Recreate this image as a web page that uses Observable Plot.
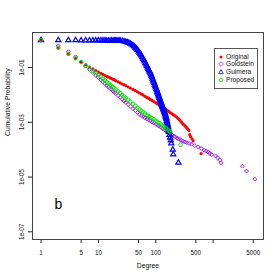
<!DOCTYPE html>
<html>
<head>
<meta charset="utf-8">
<script src="https://cdn.jsdelivr.net/npm/d3@7"></script>
<script src="https://cdn.jsdelivr.net/npm/@observablehq/plot@0.6"></script>
<style>
  html, body { margin: 0; padding: 0; background: white; }
  #wrap { position: relative; width: 280px; height: 280px; font-family: "Liberation Sans", Arial, Helvetica, sans-serif; }
  #legend { position: absolute; left: 214px; top: 48px; width: 44px; height: 41px; border: 1px solid #555; box-sizing: border-box; background: white; }
  .row { position: absolute; left: 0; height: 8px; line-height: 8px; font-size: 6.6px; color: #111; white-space: nowrap; }
  .row svg { position: absolute; left: 2px; top: 0; }
  .row span { position: absolute; left: 11px; top: 0; }
</style>
</head>
<body>
<div id="wrap"></div>
<script>
// ---- data ----
const seriesNames = ["Original", "Goldstein", "Guimera", "Proposed"];

const originalDegree = [1,2,3,4,5,6,7,8,9,10,11,12,13,14,15,16,17,18,19,20,22,24,26,28,30,33,36,40,44,48,52,56,60,65,70,75,80,86,92,100,107,115,123,132,141,150,160,170,180,192,205,218,232,246,260,275,290,305,320,335,350,365,378,392,405,428,447,617];
const originalLog10P = [0,-0.29,-0.51,-0.67,-0.80,-0.90,-0.98,-1.05,-1.11,-1.17,-1.21,-1.25,-1.29,-1.32,-1.35,-1.38,-1.40,-1.43,-1.45,-1.48,-1.52,-1.56,-1.60,-1.63,-1.66,-1.71,-1.75,-1.80,-1.84,-1.89,-1.93,-1.97,-2.00,-2.05,-2.09,-2.12,-2.16,-2.20,-2.24,-2.29,-2.33,-2.37,-2.41,-2.45,-2.49,-2.53,-2.57,-2.61,-2.65,-2.69,-2.73,-2.77,-2.81,-2.86,-2.91,-2.97,-3.03,-3.08,-3.12,-3.17,-3.21,-3.26,-3.30,-3.45,-3.52,-3.60,-3.68,-4.14];

const goldsteinDegree = [1,2,3,4,5,6,7,8,9,10,11,12,13,14,15,16,17,18,19,20,22,24,26,28,30,33,36,40,44,48,52,56,60,65,70,75,80,86,92,100,107,115,123,132,141,150,160,170,180,192,205,218,232,246,264,280,300,320,347,380,420,480,550,620,700,760,825,870,940,1100,1195,1310,1375,3250,3820,5360];
const goldsteinLog10P = [0,-0.21,-0.42,-0.61,-0.80,-0.95,-1.07,-1.18,-1.28,-1.37,-1.45,-1.52,-1.59,-1.65,-1.71,-1.76,-1.81,-1.86,-1.90,-1.95,-2.02,-2.09,-2.16,-2.22,-2.27,-2.35,-2.42,-2.50,-2.57,-2.64,-2.70,-2.75,-2.79,-2.84,-2.88,-2.91,-2.94,-2.98,-3.02,-3.07,-3.10,-3.14,-3.18,-3.23,-3.27,-3.31,-3.35,-3.39,-3.42,-3.46,-3.50,-3.53,-3.57,-3.60,-3.63,-3.66,-3.69,-3.72,-3.74,-3.77,-3.80,-3.85,-3.90,-3.96,-4.02,-4.05,-4.09,-4.13,-4.18,-4.23,-4.30,-4.38,-4.48,-4.60,-4.78,-5.08];

const guimeraDegree = [1,2,3,4,5,6,7,8,9,10,11,12,13,14,15,16,17,18,19,20,21,22,23,
  24,26,28,30,32,34,36,38,40,42,44,46,48,50,52,54,56,58,60,
  62,64,66,68,70,72,74,76,78,80,82,84,86,88,90,92,94,96,98,100,
  102,104,106,108,110,112,114,116,118,120,122,124,126,128,130,132,134,136,138,140,
  142,144,146,148,150,152,154,156,158,160,162,164,166,168,170,
  174,178,183,187,198,201,248];
const guimeraLog10P = [0,0,0,0,-0.01,-0.01,-0.01,-0.01,-0.01,-0.01,-0.01,-0.01,-0.01,-0.02,-0.02,-0.02,-0.02,-0.02,-0.02,-0.02,-0.02,-0.02,-0.02,
  -0.02,-0.03,-0.045,-0.06,-0.08,-0.10,-0.13,-0.16,-0.19,-0.23,-0.27,-0.31,-0.36,-0.41,-0.46,-0.51,-0.56,-0.62,-0.68,
  -0.73,-0.78,-0.84,-0.89,-0.94,-1.00,-1.05,-1.10,-1.14,-1.19,-1.24,-1.30,-1.35,-1.41,-1.47,-1.52,-1.57,-1.63,-1.68,-1.73,
  -1.78,-1.83,-1.88,-1.92,-1.97,-2.02,-2.06,-2.11,-2.16,-2.20,-2.24,-2.28,-2.32,-2.36,-2.40,-2.44,-2.47,-2.51,-2.55,-2.59,
  -2.62,-2.66,-2.70,-2.75,-2.79,-2.84,-2.89,-2.95,-3.00,-3.05,-3.11,-3.17,-3.23,-3.29,-3.35,
  -3.46,-3.56,-3.66,-3.77,-4.00,-4.17,-4.47];

const proposedDegree = [1,2,3,4,5,6,7,8,9,10,11,12,13,14,15,16,17,18,19,20,22,24,26,28,30,33,36,40,44,48,52,56,60,65,70,75,80,86,92,100,107,115,123,132,141,150,160,170,180,270];
const proposedLog10P = [0,-0.27,-0.49,-0.66,-0.80,-0.93,-1.03,-1.12,-1.20,-1.27,-1.34,-1.41,-1.47,-1.53,-1.58,-1.63,-1.67,-1.72,-1.76,-1.80,-1.87,-1.94,-2.00,-2.06,-2.11,-2.18,-2.25,-2.33,-2.40,-2.47,-2.53,-2.58,-2.63,-2.68,-2.73,-2.77,-2.81,-2.85,-2.89,-2.94,-2.98,-3.03,-3.08,-3.13,-3.18,-3.21,-3.26,-3.31,-3.36,-3.82];

const xTicks = [1, 5, 10, 50, 100, 500, 1000, 5000];
const xTickLabels = ["1", "5", "10", "50", "100", "500", "", "5000"];
const yTicks = [1e-1, 1e-3, 1e-5, 1e-7];
const yTickLabels = ["1e-01", "1e-03", "1e-05", "1e-07"];

const annotationDegree = [2];
const annotationP = [1e-6];
const annotationText = ["b"];

// ---- build tables ----
const rows = (deg, lp) => deg.map((d, i) => ({degree: d, p: Math.pow(10, lp[i])}));
const original = rows(originalDegree, originalLog10P);
const goldstein = rows(goldsteinDegree, goldsteinLog10P);
const guimera = rows(guimeraDegree, guimeraLog10P);
const proposed = rows(proposedDegree, proposedLog10P);
const xLab = new Map(xTicks.map((t, i) => [t, xTickLabels[i]]));
const yLab = new Map(yTicks.map((t, i) => [t, yTickLabels[i]]));
const notes = annotationDegree.map((d, i) => ({degree: d, p: annotationP[i], text: annotationText[i]}));

const colors = {Original: "#FF0000", Goldstein: "#A020F0", Guimera: "#0000FF", Proposed: "#00E000"};

const chart = Plot.plot({
  width: 280,
  height: 280,
  marginLeft: 32,
  marginRight: 17,
  marginTop: 32,
  marginBottom: 41,
  style: {fontFamily: "Liberation Sans, Arial, Helvetica, sans-serif", background: "white", color: "black"},
  x: {type: "log", domain: [0.7096, 7551]},
  y: {type: "log", domain: [5.25e-8, 1.905]},
  marks: [
    Plot.dot(original, {x: "degree", y: "p", r: 1.6, fill: colors.Original, stroke: "none"}),
    Plot.dot(goldstein, {x: "degree", y: "p", symbol: "diamond2", r: 1.8, stroke: colors.Goldstein, strokeWidth: 1, fill: "none"}),
    Plot.dot(guimera, {x: "degree", y: "p", symbol: "triangle", r: 1.9, stroke: colors.Guimera, strokeWidth: 1.2, fill: "none"}),
    Plot.dot(proposed, {x: "degree", y: "p", r: 1.8, stroke: colors.Proposed, strokeWidth: 0.9, fill: "none"}),
    Plot.text(notes, {x: "degree", y: "p", text: "text", fontSize: 14, fill: "black"}),
    Plot.axisX({ticks: xTicks, tickSize: 4, tickFormat: () => "", label: null, stroke: "#222"}),
    Plot.text(xTicks, {x: d => d, frameAnchor: "bottom", dy: 13, text: d => xLab.get(d), fontSize: 6.3, lineAnchor: "middle", fill: "#111"}),
    Plot.axisY({ticks: yTicks, tickSize: 4, tickFormat: () => "", label: null, stroke: "#222"}),
    Plot.text(yTicks, {y: d => d, frameAnchor: "left", dx: -10.5, rotate: -90, text: d => yLab.get(d), fontSize: 6.3, textAnchor: "middle", lineAnchor: "middle", fill: "#111"}),
    Plot.text(["Degree"], {frameAnchor: "bottom", dy: 28, fontSize: 6.8, fill: "#111"}),
    Plot.text(["Cumulative Probability"], {frameAnchor: "left", dx: -25, rotate: -90, fontSize: 6.8, fill: "#111"}),
    Plot.frame({stroke: "#444", strokeWidth: 1})
  ]
});

const wrap = document.getElementById("wrap");
wrap.appendChild(chart);

// legend overlay
const legend = document.createElement("div");
legend.id = "legend";
const symbolSvg = {
  Original: `<circle cx="4" cy="4" r="1.5" fill="${colors.Original}"/>`,
  Goldstein: `<path d="M4,1.6L6.4,4L4,6.4L1.6,4Z" fill="none" stroke="${colors.Goldstein}" stroke-width="0.8"/>`,
  Guimera: `<path d="M4,1.6L6.3,5.7L1.7,5.7Z" fill="none" stroke="${colors.Guimera}" stroke-width="0.8"/>`,
  Proposed: `<circle cx="4" cy="4" r="1.8" fill="none" stroke="${colors.Proposed}" stroke-width="0.8"/>`
};
seriesNames.forEach((name, i) => {
  const row = document.createElement("div");
  row.className = "row";
  row.style.top = (3.5 + i * 7.8) + "px";
  row.style.width = "44px";
  row.innerHTML = `<svg width="8" height="8">${symbolSvg[name]}</svg><span>${name}</span>`;
  legend.appendChild(row);
});
wrap.appendChild(legend);
</script>
</body>
</html>
